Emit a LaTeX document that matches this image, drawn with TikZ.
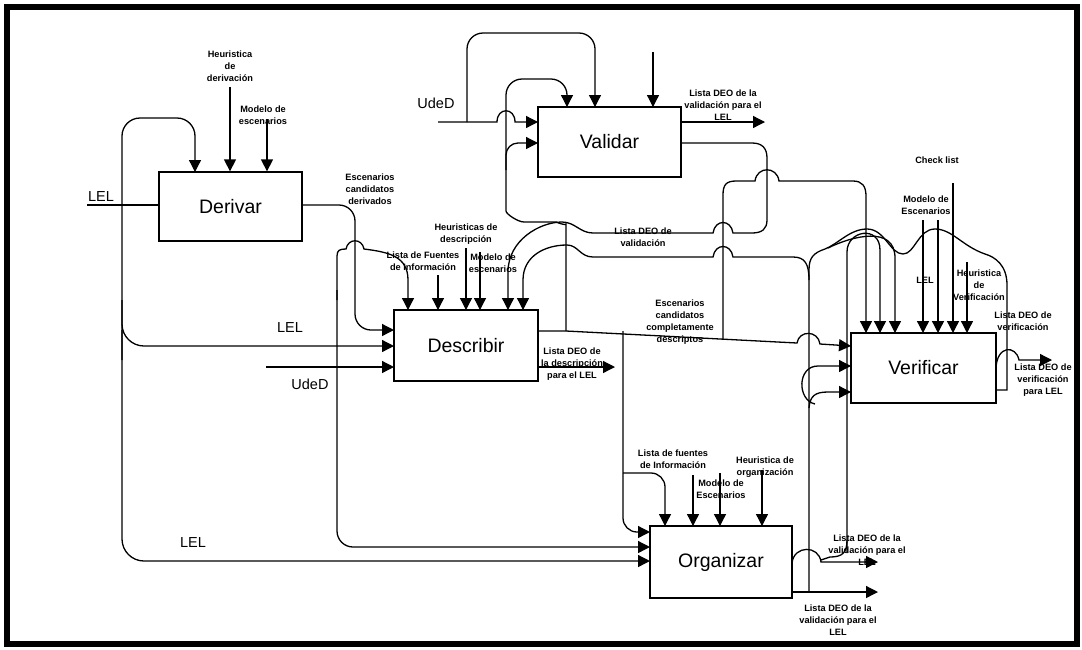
\documentclass[tikz,border=0pt]{standalone}
\usepackage{fontspec}
\setmainfont{Liberation Sans}
\usetikzlibrary{arrows.meta}
\newcommand{\lblfont}{\fontsize{9.2}{12}\selectfont\bfseries}
\newcommand{\boxfont}{\fontsize{19.5}{22}\selectfont}
\newcommand{\midfont}{\fontsize{14.5}{16}\selectfont}
\begin{document}
\begin{tikzpicture}[x=1pt,y=-1pt,
  ln/.style={line width=1.3pt},
  arr/.style={line width=1.3pt,-{Triangle[length=12pt,width=12pt]}},
  proc/.style={draw,line width=1.3pt,inner sep=0pt,font=\boxfont},
  lbl/.style={font=\lblfont,align=center,inner sep=0pt},
  big/.style={font=\midfont,inner sep=0pt}]
\fill[white] (0,0) rectangle (1082,649);
\useasboundingbox (0,0) rectangle (1082,649);
\draw[line width=6pt] (7,6.5) rectangle (1076.5,643.5);

% activity boxes
\node[proc,minimum width=143pt,minimum height=69pt] (der) at (230.5,206.5) {Derivar};
\node[proc,minimum width=143pt,minimum height=70pt] (val) at (609.5,142) {Validar};
\node[proc,minimum width=144pt,minimum height=71pt] (des) at (466,345.5) {Describir};
\node[proc,minimum width=145pt,minimum height=70pt] (ver) at (923.5,368) {Verificar};
\node[proc,minimum width=142pt,minimum height=72pt] (org) at (721,562) {Organizar};

% ---------- Derivar ----------
\coordinate (lelA) at (87,205);
\draw[ln] (lelA) -- (lelA -| der.west);
\node[big] (tLelA) at (101,197) {LEL};
\coordinate (hdTop) at (230,87);
\draw[arr] (hdTop) -- (hdTop |- der.north);
\node[lbl] (tHd) at (230,66) {Heuristica\\de\\derivación};
\coordinate (mdTop) at (267,119);
\draw[arr] (mdTop) -- (mdTop |- der.north);
\node[lbl] (tMd) at (263,115) {Modelo de\\escenarios};

% LEL trunk feeding Derivar, Describir and Organizar
\draw[arr,rounded corners=18pt] (122,360) -- (122,118) -- (195,118) -- (195,172);
\draw[arr,rounded corners=22pt] (122,300) -- (122,346) -- (394,346);
\draw[arr,rounded corners=22pt] (122,330) -- (122,561) -- (650,561);
\node[big] (tLelB) at (290,328) {LEL};
\node[big] (tLelC) at (193,543) {LEL};

% Derivar output
\draw[arr,rounded corners=16pt] (302,205) -- (355,205) -- (355,330) -- (394,330);
\node[lbl] (tEcd) at (370,189) {Escenarios\\candidatos\\derivados};

% information sources
\draw[arr] (337,300) -- (337,256) .. controls (337,250) and (340,249) .. (346,249)
  .. controls (348,238) and (362,238) .. (364,249)
  .. controls (388,252) and (408,256) .. (408,280) -- (408,310);
\draw[arr,rounded corners=16pt] (337,290) -- (337,547) -- (650,547);

% ---------- Describir ----------
\draw[arr] (438,275) -- (438,310);
\node[lbl] (tLfd) at (423,261) {Lista de Fuentes\\de Información};
\draw[arr] (466,248) -- (466,310);
\node[lbl] (tHdd) at (466,234.5) {Heuristicas de\\descripción};
\draw[arr] (480,252) -- (480,310);
\node[lbl] (tMdd) at (493,263) {Modelo de\\escenarios};
\draw[arr] (266,367) -- (394,367);
\node[big] (tUdB) at (310,384) {UdeD};

\coordinate (escOut) at (538,331);
\draw[arr] (escOut) -- (566,331) -- (797,343) .. controls (799,330) and (818,330) .. (820,344) -- (851,346);
\node[lbl] (tEcc) at (680,322.5) {Escenarios\\candidatos\\completamente\\descriptos};
\draw[arr] (538,367) -- (615,367);
\node[lbl] (tLdd) at (572,364) {Lista DEO de\\la descripción\\para el LEL};

% scenarios up to Validar
\draw[arr,rounded corners=16pt] (566,331) -- (566,240) .. controls (566,226) and (556,222) .. (540,222)
  .. controls (518,222) and (506,214) .. (506,195) -- (506,79) -- (567,79) -- (567,107);
\draw[arr,rounded corners=12pt] (506,170) -- (506,143) -- (538,143);

% ---------- Validar ----------
\draw[arr] (438,122) -- (497,122) .. controls (497,107) and (515,107) .. (515,122) -- (538,122);
\draw[arr,rounded corners=16pt] (467,122) -- (467,33) -- (595,33) -- (595,107);
\node[big] (tUdA) at (436,103.5) {UdeD};
\draw[arr] (653,52) -- (653,107);
\draw[arr] (681,122) -- (765,122);
\node[lbl] (tLvA) at (723,105) {Lista DEO de la\\validación para el\\LEL};

% validation list fed back
\draw[arr] (681,143) -- (752,143) .. controls (762,143) and (767,148) .. (767,158) -- (767,220)
  .. controls (767,229) and (762,233) .. (752,233) -- (733,233)
  .. controls (731,219) and (715,219) .. (713,233) -- (593,233)
  .. controls (580,233) and (575,222) .. (562,222)
  .. controls (540,222) and (508,240) .. (508,272) -- (508,310);
\node[lbl] (tLv) at (643,237.5) {Lista DEO de\\validación};
\draw[arr] (809,280) .. controls (809,264) and (805,257) .. (793,257) -- (733,257)
  .. controls (731,243) and (715,243) .. (713,257) -- (593,257)
  .. controls (580,257) and (578,245) .. (567,245)
  .. controls (545,245) and (523,256) .. (523,280) -- (523,310);

% scenarios to Verificar control
\draw[arr] (723,339) -- (723,195) .. controls (723,185) and (726,181) .. (736,181) -- (755,181)
  .. controls (757,166) and (777,166) .. (779,181) -- (853,181)
  .. controls (862,181) and (866,186) .. (866,196) -- (866,333);

% ---------- Verificar ----------
\draw[ln] (996,390) -- (1007,390) -- (1007,285) .. controls (1007,265) and (995,257) .. (985,254)
  .. controls (962,246) and (952,229) .. (935,229)
  .. controls (918,229) and (915,254) .. (903,254)
  .. controls (890,254) and (885,229) .. (867,229)
  .. controls (850,229) and (838,244) .. (825,249)
  .. controls (813,253) and (809,258) .. (809,270) -- (809,592);
\draw[arr] (847,553) -- (847,252) .. controls (847,230) and (880,225) .. (880,250) -- (880,333);
\draw[arr] (828,248) .. controls (852,236) and (895,225) .. (895,258) -- (895,333);
\draw[arr] (923,220) -- (923,333);
\draw[arr] (938,220) -- (938,333);
\draw[arr] (953,183) -- (953,333);
\draw[arr] (967,262) -- (967,333);
\node[lbl] (tCl) at (937,160) {Check list};
\node[lbl] (tMdv) at (926,205.5) {Modelo de\\Escenarios};
\node[lbl] (tLelV) at (925,280) {LEL};
\node[lbl] (tHv) at (979,285.5) {Heuristica\\de\\Verificación};
\node[lbl] (tLdv) at (1023,321) {Lista DEO de\\verificación};

\draw[arr] (815,404) .. controls (797,400) and (797,366) .. (818,366) -- (851,366);
\draw[arr] (809,408) .. controls (810,396) and (815,392) .. (828,392) -- (851,392);

\draw[arr] (996,368) .. controls (997,345) and (1016,345) .. (1019,360) -- (1052,360);
\node[lbl] (tLdvl) at (1043,380) {Lista DEO de\\verificación\\para LEL};

% ---------- Organizar ----------
\draw[arr,rounded corners=14pt] (623,331) -- (623,532) -- (650,532);
\draw[arr,rounded corners=14pt] (623,473) -- (665,473) -- (665,526);
\draw[arr] (693,475) -- (693,526);
\node[lbl] (tLfo) at (673,459.5) {Lista de fuentes\\de Información};
\draw[arr] (720,473) -- (720,526);
\node[lbl] (tMdo) at (721,489) {Modelo de\\Escenarios};
\draw[arr] (762,470) -- (762,526);
\node[lbl] (tHo) at (765,467.5) {Heuristica de\\organización};

\draw[arr] (792,563) .. controls (794,545) and (819,545) .. (821,562) -- (878,562);
\draw[ln] (847,540) .. controls (847,553) and (842,557) .. (830,557) -- (821,560);
\node[lbl] (tLoA) at (867,550) {Lista DEO de la\\validación para el\\LEL};
\draw[arr] (792,592) -- (878,592);
\node[lbl] (tLoB) at (838,620) {Lista DEO de la\\validación para el\\LEL};
\end{tikzpicture}
\end{document}
